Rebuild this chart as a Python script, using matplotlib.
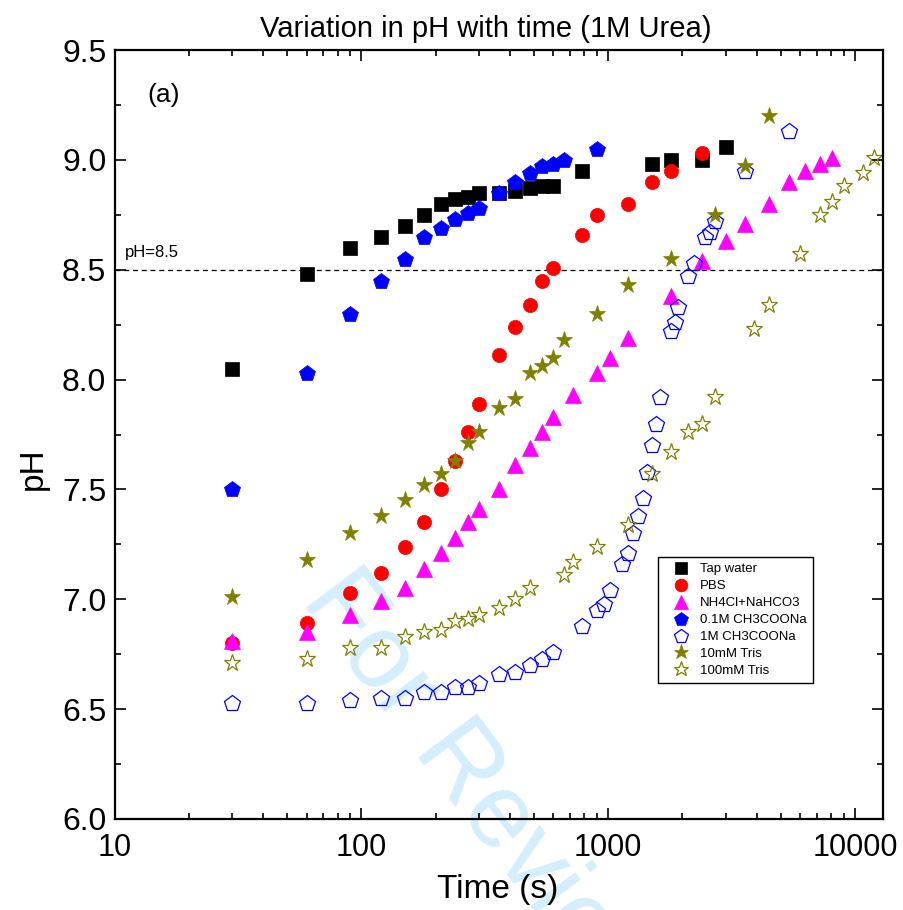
import matplotlib
matplotlib.use("Agg")
import matplotlib.pyplot as plt
from matplotlib.ticker import MultipleLocator, FixedLocator, LogLocator, NullFormatter, FuncFormatter
import matplotlib.transforms as mtransforms

plt.rcParams['font.family'] = ['Liberation Sans', 'DejaVu Sans']

# ---------------- data ----------------
tap_t = [30, 60, 90, 120, 150, 180, 210, 240, 270, 300, 360, 420, 480, 540, 600, 780, 1500, 1800, 2400, 3000]
tap_ph = [8.05, 8.48, 8.60, 8.65, 8.70, 8.75, 8.80, 8.82, 8.83, 8.85, 8.85, 8.86, 8.87, 8.88, 8.88, 8.95, 8.98, 9.00, 9.00, 9.06]

pbs_t = [30, 60, 90, 120, 150, 180, 210, 240, 270, 300, 360, 420, 480, 540, 600, 780, 900, 1200, 1500, 1800, 2400]
pbs_ph = [6.80, 6.89, 7.03, 7.12, 7.24, 7.35, 7.50, 7.63, 7.76, 7.89, 8.11, 8.24, 8.34, 8.45, 8.51, 8.66, 8.75, 8.80, 8.90, 8.95, 9.03]

nh4_t = [30, 60, 90, 120, 150, 180, 210, 240, 270, 300, 360, 420, 480, 540, 600, 720, 900, 1020, 1200,
         1800, 2400, 3000, 3600, 4500, 5400, 6300, 7200, 8100]
nh4_ph = [6.81, 6.85, 6.93, 6.99, 7.05, 7.14, 7.21, 7.28, 7.35, 7.41, 7.50, 7.61, 7.69, 7.76, 7.83, 7.93, 8.03, 8.10, 8.19,
          8.38, 8.54, 8.63, 8.71, 8.80, 8.90, 8.95, 8.98, 9.01]

ac01_t = [30, 60, 90, 120, 150, 180, 210, 240, 270, 300, 360, 420, 480, 540, 600, 660, 900]
ac01_ph = [7.50, 8.03, 8.30, 8.45, 8.55, 8.65, 8.69, 8.73, 8.76, 8.78, 8.85, 8.90, 8.94, 8.97, 8.98, 9.00, 9.05]

ac1_t = [30, 60, 90, 120, 150, 180, 210, 240, 270, 300, 360, 420, 480, 540, 600, 780, 900, 960, 1020, 1140, 1200,
         1260, 1320, 1380, 1440, 1500, 1560, 1620, 1800, 1860, 1920, 2100, 2220, 2460, 2580, 2700, 3600, 5400]
ac1_ph = [6.53, 6.53, 6.54, 6.55, 6.55, 6.58, 6.58, 6.60, 6.60, 6.62, 6.66, 6.67, 6.70, 6.73, 6.76, 6.88, 6.95, 6.98, 7.04, 7.16, 7.21,
          7.30, 7.38, 7.46, 7.58, 7.70, 7.80, 7.92, 8.22, 8.26, 8.33, 8.47, 8.53, 8.65, 8.67, 8.72, 8.95, 9.13]

tris10_t = [30, 60, 90, 120, 150, 180, 210, 240, 270, 300, 360, 420, 480, 540, 600, 660, 900, 1200, 1800, 2700, 3600, 4500]
tris10_ph = [7.01, 7.18, 7.30, 7.38, 7.45, 7.52, 7.57, 7.63, 7.71, 7.76, 7.87, 7.91, 8.03, 8.06, 8.10, 8.18, 8.30, 8.43, 8.55, 8.75, 8.97, 9.20]

tris100_t = [30, 60, 90, 120, 150, 180, 210, 240, 270, 300, 360, 420, 480, 660, 720, 900, 1200, 1500, 1800, 2100,
             2400, 2700, 3900, 4500, 6000, 7200, 8100, 9000, 10800, 12000]
tris100_ph = [6.71, 6.73, 6.78, 6.78, 6.83, 6.85, 6.86, 6.90, 6.91, 6.93, 6.96, 7.00, 7.05, 7.11, 7.17, 7.24, 7.34, 7.57, 7.67, 7.76,
              7.80, 7.92, 8.23, 8.34, 8.57, 8.75, 8.81, 8.88, 8.94, 9.01]

labels = ["Tap water", "PBS", "NH4Cl+NaHCO3", "0.1M CH3COONa", "1M CH3COONa", "10mM Tris", "100mM Tris"]
threshold = 8.5
y_ticks = [6.0, 6.5, 7.0, 7.5, 8.0, 8.5, 9.0, 9.5]
x_ticks = [10, 100, 1000, 10000]

# ---------------- figure ----------------
W, H = 904, 910
fig = plt.figure(figsize=(W / 100, H / 100), dpi=100, facecolor='white')
L, R, T, B = 114.7, 883.3, 50, 819
ax = fig.add_axes([L / W, 1 - B / H, (R - L) / W, (B - T) / H])
ax.patch.set_alpha(0)

# watermark (behind everything)
fig.text(300 / W, 1 - 600 / H, "For Review", rotation=-53, rotation_mode='anchor',
         ha='left', va='baseline', fontsize=76, color='#d4effb', zorder=-5)

olive = '#808000'
series = [
    (tap_t, tap_ph, dict(marker='s', ms=9.5, mfc='black', mec='black', mew=0.5)),
    (pbs_t, pbs_ph, dict(marker='o', ms=10.2, mfc='#ff0000', mec='#ff0000', mew=0.5)),
    (nh4_t, nh4_ph, dict(marker='^', ms=11.5, mfc='#ff00ff', mec='#ff00ff', mew=0.5)),
    (ac01_t, ac01_ph, dict(marker='p', ms=11.6, mfc='#0000ff', mec='#0000ff', mew=0.5)),
    (ac1_t, ac1_ph, dict(marker='p', ms=11.6, mfc='none', mec='#0000ff', mew=0.9)),
    (tris10_t, tris10_ph, dict(marker='*', ms=12.5, mfc=olive, mec=olive, mew=0.5)),
    (tris100_t, tris100_ph, dict(marker='*', ms=12.5, mfc='none', mec=olive, mew=0.9)),
]
handles = []
for (t, ph, st), lab in zip(series, labels):
    h, = ax.plot(t, ph, linestyle='none', label=lab, **st)
    handles.append(h)

ax.axhline(threshold, color='black', lw=0.9, ls=(0, (4, 3)), zorder=1)

ax.set_xscale('log')
ax.set_xlim(10, 10 ** 4.115)
ax.set_ylim(6.0, 9.5)

ax.yaxis.set_major_locator(FixedLocator(y_ticks))
ax.yaxis.set_minor_locator(MultipleLocator(0.25))
ax.yaxis.set_major_formatter(FuncFormatter(lambda v, p: f"{v:.1f}"))
ax.xaxis.set_major_locator(FixedLocator(x_ticks))
ax.xaxis.set_minor_locator(LogLocator(base=10, subs=range(2, 10)))
ax.xaxis.set_major_formatter(FuncFormatter(lambda v, p: f"{int(round(v))}"))
ax.xaxis.set_minor_formatter(NullFormatter())

ax.tick_params(which='both', direction='in', top=True, right=True, width=1.2)
ax.tick_params(which='major', length=8)
ax.tick_params(which='minor', length=4)
ax.tick_params(axis='y', which='major', pad=6, labelsize=23)
ax.tick_params(axis='x', which='major', pad=10, labelsize=22)
for s in ax.spines.values():
    s.set_linewidth(1.6)

# texts
fig.text(486 / W, 1 - 37 / H, "Variation in pH with time (1M Urea)", ha='center', va='baseline', fontsize=21)
fig.text(498 / W, 1 - 898 / H, "Time (s)", ha='center', va='baseline', fontsize=24)
fig.text(33 / W, 1 - 469 / H, "pH", ha='center', va='center', rotation=90, fontsize=24)
ax.text(0.042, 0.932, "(a)", transform=ax.transAxes, fontsize=19, ha='left', va='baseline')
trans = mtransforms.blended_transform_factory(ax.transAxes, ax.transData)
ax.text(0.0135, 8.556, "pH=8.5", transform=trans, fontsize=12, ha='left', va='baseline')

leg = ax.legend(handles=handles, loc='upper left', bbox_to_anchor=(658 / W, 1 - 557 / H),
                bbox_transform=fig.transFigure, borderaxespad=0, fontsize=9.5,
                frameon=True, fancybox=False, edgecolor='black', framealpha=1,
                borderpad=0.45, labelspacing=0.36, handlelength=2.6, handletextpad=0.15,
                markerscale=0.9, numpoints=1)
leg.get_frame().set_linewidth(1.0)

fig.savefig("out.png", dpi=100, facecolor='white')
